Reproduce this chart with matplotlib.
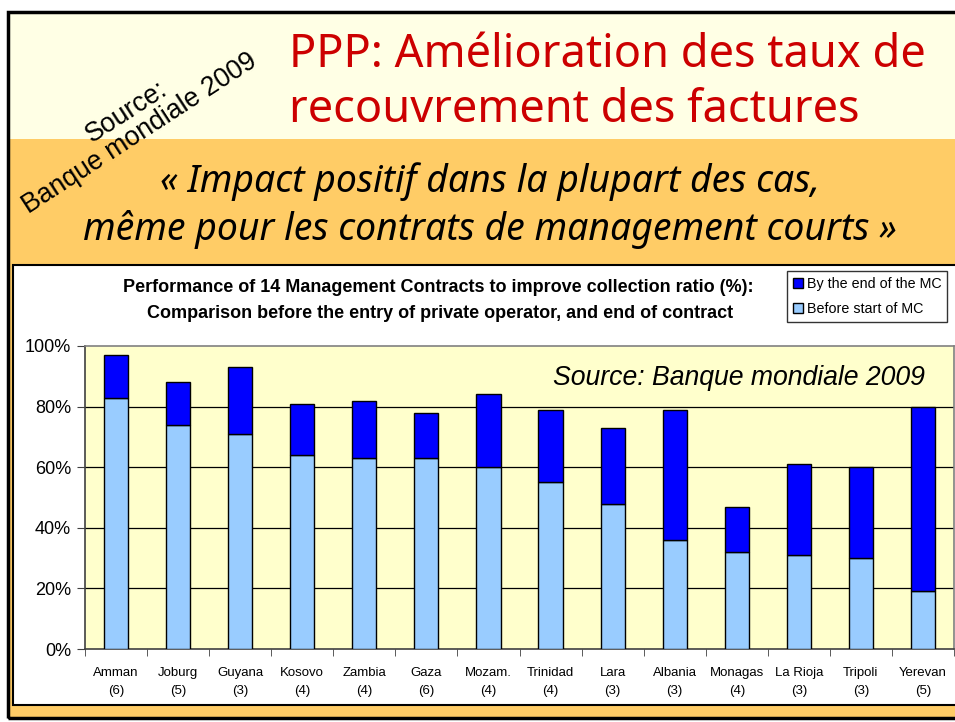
import matplotlib
matplotlib.use("Agg")
import matplotlib.pyplot as plt
from matplotlib.patches import Rectangle, Patch
import numpy as np

W, H = 955, 722

categories = ["Amman\n(6)", "Joburg\n(5)", "Guyana\n(3)", "Kosovo\n(4)", "Zambia\n(4)", "Gaza\n(6)",
              "Mozam.\n(4)", "Trinidad\n(4)", "Lara\n(3)", "Albania\n(3)", "Monagas\n(4)",
              "La Rioja\n(3)", "Tripoli\n(3)", "Yerevan\n(5)"]
before = [83, 74, 71, 64, 63, 63, 60, 55, 48, 36, 32, 31, 30, 19]
after = [97, 88, 93, 81, 82, 78, 84, 79, 73, 79, 47, 61, 60, 80]
yticks = [0, 20, 40, 60, 80, 100]
ytick_labels = ["0%", "20%", "40%", "60%", "80%", "100%"]

fig = plt.figure(figsize=(W / 100, H / 100), dpi=100)
fig.patch.set_facecolor("white")

def fx(x):
    return x / W

def fy(y):
    return 1 - y / H

# slide background
fig.patches.append(Rectangle((fx(8), fy(718)), fx(960) - fx(8), fy(139) - fy(718),
                             transform=fig.transFigure, facecolor="#FFCC66", edgecolor="none", zorder=-3))
fig.patches.append(Rectangle((fx(8), fy(139)), fx(960) - fx(8), fy(12) - fy(139),
                             transform=fig.transFigure, facecolor="#FFFFE5", edgecolor="none", zorder=-3))
fig.patches.append(Rectangle((fx(8), fy(718)), fx(962) - fx(8), fy(12) - fy(718),
                             transform=fig.transFigure, facecolor="none", edgecolor="black", lw=2.5, zorder=-2))
# chart area box
fig.patches.append(Rectangle((fx(13), fy(705)), fx(962) - fx(13), fy(265) - fy(705),
                             transform=fig.transFigure, facecolor="white", edgecolor="black", lw=1.5, zorder=-1))

# titles
title_font = ["Noto Sans", "DejaVu Sans"]
fig.text(fx(289), fy(67), "PPP: Amélioration des taux de", color="#CC0000", fontsize=32.5,
         family=title_font, ha="left", va="baseline")
fig.text(fx(289), fy(122), "recouvrement des factures", color="#CC0000", fontsize=32.5,
         family=title_font, ha="left", va="baseline")
fig.text(fx(490), fy(192), "« Impact positif dans la plupart des cas,", color="black", fontsize=26.9,
         family=title_font, style="italic", ha="center", va="baseline")
fig.text(fx(490), fy(240), "même pour les contrats de management courts »", color="black", fontsize=26.9,
         family=title_font, style="italic", ha="center", va="baseline")
fig.text(fx(133), fy(123), "Source:\nBanque mondiale 2009", color="black", fontsize=19.2,
         family=["Liberation Sans", "DejaVu Sans"], rotation=33, rotation_mode="anchor",
         ha="center", va="center", multialignment="center", linespacing=1.0)

# chart title
fig.text(fx(438), fy(287), "Performance of 14 Management Contracts to improve collection ratio (%):",
         fontsize=13, weight="bold", family=["Liberation Sans", "DejaVu Sans"], ha="center", va="center")
fig.text(fx(440), fy(313), "Comparison before the entry of private operator, and end of contract",
         fontsize=13, weight="bold", family=["Liberation Sans", "DejaVu Sans"], ha="center", va="center")

ax = fig.add_axes([fx(85), fy(649), fx(954) - fx(85), fy(346) - fy(649)])
ax.set_facecolor("#FFFFCC")
x = np.arange(len(categories))
top = [a - b for a, b in zip(after, before)]
ax.bar(x, before, width=0.39, color="#99CCFF", edgecolor="black", linewidth=1, zorder=3,
       label="Before start of MC")
ax.bar(x, top, bottom=before, width=0.39, color="#0000FF", edgecolor="black", linewidth=1, zorder=3,
       label="By the end of the MC")
ax.set_xlim(-0.5, len(categories) - 0.5)
ax.set_ylim(0, 100)
ax.set_yticks(yticks)
ax.set_yticklabels(ytick_labels, family=["Liberation Sans", "DejaVu Sans"], fontsize=13)
ax.set_xticks(x)
ax.set_xticklabels(categories, family=["Liberation Sans", "DejaVu Sans"], fontsize=9.5, linespacing=1.65)
ax.set_xticks(np.arange(len(categories) + 1) - 0.5, minor=True)
ax.tick_params(axis="x", which="major", length=0, pad=13)
ax.tick_params(axis="x", which="minor", length=5, direction="out", color="#404040")
ax.tick_params(axis="y", length=6, direction="out", pad=4, color="#404040")
for yv in yticks[1:-1]:
    ax.axhline(yv, color="black", lw=0.9, zorder=1)
for side in ["top", "right"]:
    ax.spines[side].set_color("#808080")
    ax.spines[side].set_linewidth(1.2)
for side in ["left", "bottom"]:
    ax.spines[side].set_color("#404040")
    ax.spines[side].set_linewidth(1.2)

ax.text(0.9666, 0.894, "Source: Banque mondiale 2009", transform=ax.transAxes, ha="right", va="center",
        fontsize=19.2, style="italic", family=["Liberation Sans", "DejaVu Sans"], zorder=5)

handles = [Patch(facecolor="#0000FF", edgecolor="black", label="By the end of the MC"),
           Patch(facecolor="#99CCFF", edgecolor="black", label="Before start of MC")]
leg = fig.legend(handles=handles, loc="upper left", bbox_to_anchor=(fx(787), fy(271)),
                 prop={"family": ["Liberation Sans", "DejaVu Sans"], "size": 10.3},
                 frameon=True, fancybox=False, edgecolor="black", handlelength=0.7, handleheight=0.7,
                 handletextpad=0.3, borderpad=0.4, labelspacing=0.8, borderaxespad=0)
leg.get_frame().set_linewidth(1)

fig.savefig("out.png", dpi=100, facecolor=fig.get_facecolor())
